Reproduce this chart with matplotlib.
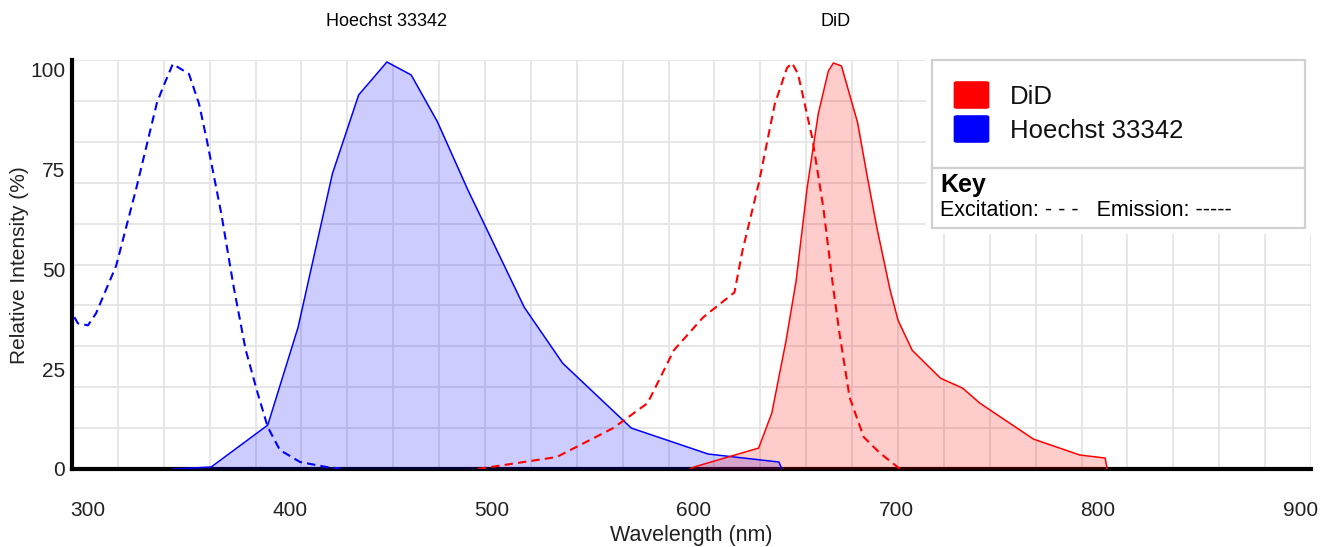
import numpy as np
import matplotlib.pyplot as plt
from matplotlib.patches import Rectangle, FancyBboxPatch
from matplotlib.transforms import blended_transform_factory

plt.rcParams['font.family'] = ['Liberation Sans', 'DejaVu Sans']

# spectra (wavelength nm, relative intensity %)
hoechst_ex_nm = [290, 295, 300, 304, 314, 324, 334, 337, 342, 350, 355, 359, 366, 372,
                 378, 384, 389, 395, 405, 418, 425]
hoechst_ex = [41, 36.5, 36, 39, 51, 70.5, 91.5, 95.5, 101.5, 99, 91.5, 82, 64, 46,
              30, 19, 10.5, 4.75, 1.75, 0.5, 0.1]

hoechst_em_nm = [342, 361, 389, 404, 421, 434, 448, 460, 473, 488, 516, 535, 569, 607, 642, 643.5]
hoechst_em = [0, 0.5, 11, 35.5, 74, 93.75, 102, 98.75, 87, 70, 40.5, 26.5, 10.25, 3.75, 1.75, 0]

did_ex_nm = [493, 532, 560, 577, 590, 604.5, 620, 624, 632, 640, 646, 648.5, 651.5, 658.5,
             664, 669, 672, 677, 684, 692, 702]
did_ex = [0, 3, 10.25, 16.5, 29.75, 38, 44.25, 54.75, 71.5, 91.5, 100.5, 101.75, 99, 83,
          65.5, 45, 34, 18, 8, 4, 0]

did_em_nm = [598, 600, 632, 638.5, 645.5, 650.5, 656, 661.5, 666.5, 669, 673, 681, 685.5,
             690.5, 697, 701, 708, 722, 733, 741.5, 768, 791, 803.5, 804.5]
did_em = [0, 0.5, 5.25, 14, 32, 47, 70.5, 89, 99.75, 101.75, 101, 86.75, 74,
          60.5, 45, 37.25, 29.75, 22.75, 20.25, 16.5, 7.5, 3.5, 2.75, 0]

dyes = ['DiD', 'Hoechst 33342']
dye_colors = ['#ff0000', '#0000ff']
peak_nm = [670, 448]
x_ticks = [300, 400, 500, 600, 700, 800, 900]
y_ticks = [0, 25, 50, 75, 100]

W, H = 1325, 547
fig = plt.figure(figsize=(W / 100, H / 100), dpi=100)
ax_l, ax_r, ax_t, ax_b = 72, 1311, 60, 469
ax = fig.add_axes([ax_l / W, 1 - ax_b / H, (ax_r - ax_l) / W, (ax_b - ax_t) / H])

xmin, xmax = 292.1, 905.4
ymax = 102.5
ax.set_xlim(xmin, xmax)
ax.set_ylim(0, ymax)

# curves
ax.fill_between(hoechst_em_nm, hoechst_em, color='#0000ff', alpha=0.2, lw=0, zorder=3)
ax.fill_between(did_em_nm, did_em, color='#ff0000', alpha=0.2, lw=0, zorder=3)
ax.plot(hoechst_em_nm, hoechst_em, color='#0000ff', lw=1.1, zorder=4)
ax.plot(did_em_nm, did_em, color='#ff0000', lw=1.1, zorder=4)
ax.plot(hoechst_ex_nm, hoechst_ex, color='#0000ff', lw=1.5, ls=(0, (4, 2.5)), zorder=4)
ax.plot(did_ex_nm, did_ex, color='#ff0000', lw=1.5, ls=(0, (4, 2.5)), zorder=4)

# grid (doesn't line up with the labels in the original)
ax.set_xticks(x_ticks)
ax.set_yticks(y_ticks)
ax.set_xticks(np.linspace(xmin, xmax, 28), minor=True)
ax.set_yticks(np.linspace(0, ymax, 11), minor=True)
ax.grid(which='minor', color='#e3e3e3', lw=1.2)
ax.grid(which='major', visible=False)
ax.set_axisbelow(True)
ax.tick_params(which='both', length=0)
ax.tick_params(axis='x', pad=23, labelsize=15, labelcolor='#222222')
ax.tick_params(axis='y', pad=5, labelsize=15, labelcolor='#222222')

for s in ['top', 'right']:
    ax.spines[s].set_visible(False)
for s in ['left', 'bottom']:
    ax.spines[s].set_linewidth(3)
    ax.spines[s].set_color('black')
    ax.spines[s].set_zorder(2)

fig.text(20 / W, 1 - 265 / H, 'Relative Intensity (%)', rotation=90, ha='center', va='center',
         fontsize=15, color='#222222')
fig.text(691 / W, 1 - 535 / H, 'Wavelength (nm)', ha='center', va='center',
         fontsize=15.5, color='#222222')

# dye names above the emission peaks
trans = blended_transform_factory(ax.transData, fig.transFigure)
for name, pk in zip(dyes, peak_nm):
    ax.text(pk, 1 - 22 / H, name, transform=trans, ha='center', va='center', fontsize=13)


# legend box, positioned in pixels
def fx(px):
    return px / W


def fy(py):
    return 1 - py / H


fig.patches.append(Rectangle((fx(926), fy(234)), fx(1325) - fx(926), fy(55) - fy(234),
                             transform=fig.transFigure, fc='white', ec='none', zorder=5))
fig.patches.append(Rectangle((fx(932), fy(168)), fx(1305) - fx(932), fy(60) - fy(168),
                             transform=fig.transFigure, fc='white', ec='#d0d0d0', lw=1.6, zorder=6))
fig.patches.append(Rectangle((fx(932), fy(228)), fx(1305) - fx(932), fy(168) - fy(228),
                             transform=fig.transFigure, fc='white', ec='#d0d0d0', lw=1.6, zorder=6))

for i, (name, col) in enumerate(zip(dyes, dye_colors)):
    yc = 95 + i * 34
    fig.patches.append(FancyBboxPatch((fx(957), fy(yc + 12)), fx(986) - fx(957), fy(yc - 12) - fy(yc + 12),
                                      boxstyle='round,pad=0.002', transform=fig.transFigure,
                                      fc=col, ec=col, lw=1, zorder=7))
    fig.text(fx(1010), fy(yc + 2), name, ha='left', va='center', fontsize=18.5, color='#111111', zorder=8)

fig.text(fx(940), fy(185), 'Key', ha='left', va='center', fontsize=18, fontweight='bold', zorder=8)
fig.text(fx(940), fy(210), 'Excitation: - - -   Emission: -----', ha='left', va='center',
         fontsize=15.5, zorder=8)

fig.savefig('out.png', dpi=100)
